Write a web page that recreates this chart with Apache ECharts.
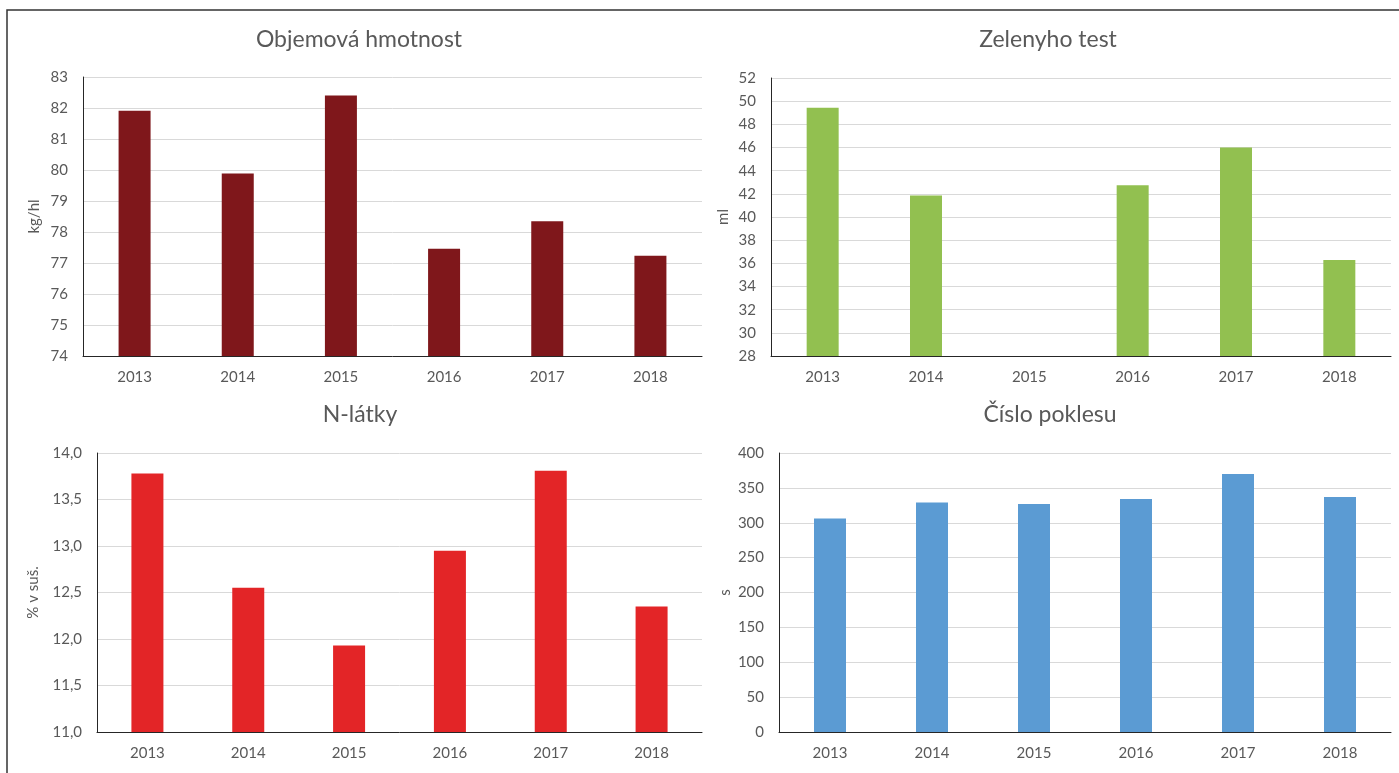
<!DOCTYPE html>
<html>
<head>
<meta charset="utf-8">
<script src="https://cdn.jsdelivr.net/npm/echarts@6/dist/echarts.min.js"></script>
<style>
  html, body { margin: 0; padding: 0; background: #fff; }
  #chart { width: 1399px; height: 773px; }
</style>
</head>
<body>
<div id="chart"></div>
<script>
var years = ['2013', '2014', '2015', '2016', '2017', '2018'];
var objemovaHmotnost = [81.91, 79.89, 82.4, 77.46, 78.35, 77.23];
var zelenyhoTest = [49.43, 41.86, null, 42.75, 46.0, 36.29];
var nLatky = [13.78, 12.55, 11.93, 12.95, 13.81, 12.35];
var cisloPoklesu = [306, 329, 327, 334, 370, 337];

var textColor = '#595959';
var font = 'Lato, "Open Sans", sans-serif';

var myChart = echarts.init(document.getElementById('chart'));

function xAxisFor(idx) {
    return {
        type: 'category',
        gridIndex: idx,
        data: years,
        axisTick: { show: false },
        axisLine: { lineStyle: { color: '#262626', width: 1 } },
        axisLabel: { color: textColor, fontSize: 15, fontFamily: font, margin: 14 }
    };
}

function yAxisFor(idx, min, max, interval, name, gap, fmt) {
    return {
        type: 'value',
        gridIndex: idx,
        min: min,
        max: max,
        interval: interval,
        name: name,
        nameLocation: 'middle',
        nameGap: gap,
        nameTextStyle: { color: textColor, fontSize: 15, fontFamily: font },
        axisLine: { show: true, lineStyle: { color: '#262626', width: 1 } },
        axisTick: { show: false },
        splitLine: { lineStyle: { color: '#d9d9d9', width: 1 } },
        axisLabel: {
            color: textColor, fontSize: 15, fontFamily: font, margin: 15,
            formatter: fmt
        }
    };
}

function titleFor(text, x, y) {
    return {
        text: text,
        left: x,
        top: y,
        textAlign: 'center',
        padding: 0,
        textStyle: { color: textColor, fontSize: 23, fontWeight: 'normal', fontFamily: font }
    };
}

function barFor(idx, data, color) {
    return {
        type: 'bar',
        xAxisIndex: idx,
        yAxisIndex: idx,
        data: data,
        barWidth: 32,
        itemStyle: { color: color },
        animation: false
    };
}

var option = {
    backgroundColor: '#fff',
    animation: false,
    title: [
        titleFor('Objemová hmotnost', 359, 28),
        titleFor('Zelenyho test', 1048, 28),
        titleFor('N-látky', 360, 403),
        titleFor('Číslo poklesu', 1050, 403)
    ],
    grid: [
        { left: 83, top: 77, width: 619, height: 279 },
        { left: 771, top: 78, width: 620, height: 278 },
        { left: 97, top: 453, width: 605, height: 279 },
        { left: 779, top: 453, width: 612, height: 279 }
    ],
    xAxis: [xAxisFor(0), xAxisFor(1), xAxisFor(2), xAxisFor(3)],
    yAxis: [
        yAxisFor(0, 74, 83, 1, 'kg/hl', 41),
        yAxisFor(1, 28, 52, 2, 'ml', 40),
        yAxisFor(2, 11, 14, 0.5, '% v suš.', 56, function (v) {
            return v.toFixed(1).replace('.', ',');
        }),
        yAxisFor(3, 0, 400, 50, 's', 46)
    ],
    series: [
        barFor(0, objemovaHmotnost, '#7f171b'),
        barFor(1, zelenyhoTest, '#92c050'),
        barFor(2, nLatky, '#e32527'),
        barFor(3, cisloPoklesu, '#5b9bd3')
    ],
    graphic: [
        {
            type: 'rect',
            shape: { x: 7, y: 10, width: 1420, height: 800 },
            style: { fill: 'none', stroke: '#333', lineWidth: 1.5 },
            silent: true
        }
    ]
};
myChart.setOption(option);
</script>
</body>
</html>
